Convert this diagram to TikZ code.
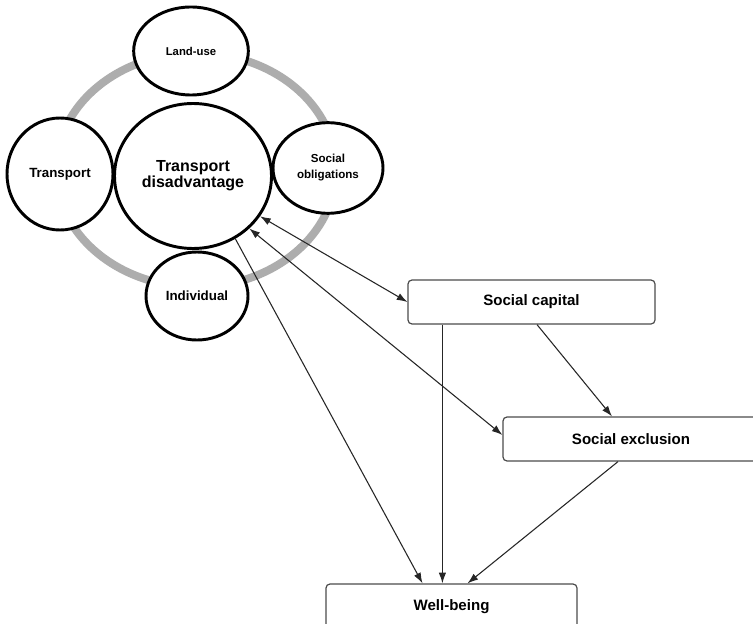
\documentclass[tikz,border=0pt]{standalone}
\usepackage{fontspec}
\setmainfont{Liberation Sans}
\usetikzlibrary{shapes.geometric,arrows.meta,calc}
\begin{document}
\begin{tikzpicture}[x=0.75pt,y=-0.75pt,
  ringline/.style={draw=black!32,line width=6pt},
  bub/.style={ellipse,draw=black,line width=2.2pt,fill=white,inner sep=0pt,align=center,font=\bfseries\fontsize{9}{12}\selectfont},
  rbox/.style={rectangle,rounded corners=3pt,draw=black!70,line width=0.9pt,fill=white,inner sep=0pt,font=\bfseries\fontsize{11.3}{13}\selectfont},
  conn/.style={draw=black!85,line width=0.8pt,-{Latex[length=8pt,width=5.5pt]}},
  conn2/.style={draw=black!85,line width=0.8pt,{Latex[length=8pt,width=5.5pt]}-{Latex[length=8pt,width=5.5pt]}}]
\clip (0,0) rectangle (753,624);
\fill[white] (0,0) rectangle (753,624);
% ring
\draw[ringline] (196,170) ellipse [x radius=105pt, y radius=87.75pt];
% bubbles
\node[bub,minimum width=86pt,minimum height=66pt,font=\bfseries\fontsize{8.5}{12}\selectfont] (land) at (191,51) {Land-use};
\node[bub,minimum width=79.5pt,minimum height=84pt,font=\bfseries\fontsize{10}{12}\selectfont] (trans) at (60,174) {Transport};
\node[bub,minimum width=82.5pt,minimum height=68pt,font=\bfseries\fontsize{8.7}{12}\selectfont] (soc) at (328,168) {Social\\obligations};
\node[bub,minimum width=76.5pt,minimum height=66pt,font=\bfseries\fontsize{10}{12}\selectfont] (ind) at (197,296) {Individual};
\node[bub,minimum width=117.75pt,minimum height=108.75pt,font=\bfseries\fontsize{12}{12}\selectfont] (td) at (193,176) {Transport\\disadvantage};
% boxes
\node[rbox,minimum width=185.25pt,minimum height=33pt] (sc) at (531.5,302) {Social capital};
\node[rbox,minimum width=192pt,minimum height=33pt] (se) at (631,439) {Social exclusion};
\node[rbox,minimum width=188.25pt,minimum height=34.5pt] (wb) at (451.5,607) {Well-being};
% connectors
\draw[conn2] (td.-31) -- (sc.west);
\draw[conn2] (td.-43) -- ($(se.west)+(0,-4)$);
\draw[conn] (td.-56) -- ($(wb.north)+(-29,0)$);
\draw[conn] ($(sc.south west)+(35,0)$) coordinate (scv) -- (scv |- wb.north);
\draw[conn] ($(sc.south)+(5.5,0)$) -- ($(se.north)+(-19,0)$);
\draw[conn] ($(se.south)+(-13,0)$) -- ($(wb.north)+(16,0)$);
\end{tikzpicture}
\end{document}
